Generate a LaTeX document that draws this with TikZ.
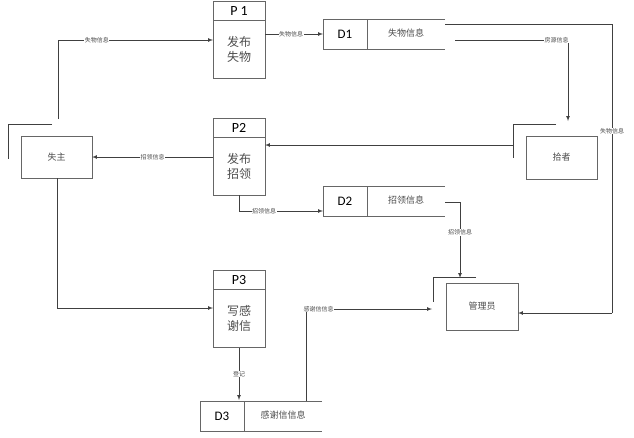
\documentclass[tikz,border=0pt]{standalone}
\usepackage{fontspec}
\setmainfont{Carlito}
\newfontfamily\cjk{Noto Sans CJK SC}
\begin{document}
\begin{tikzpicture}[x=1pt,y=-1pt,
 box/.style={draw=black!60,line width=0.8pt},
 ln/.style={draw=black!75,line width=0.7pt},
 arr/.style={ln,-latex},
 lab/.style={fill=white,inner sep=0.5pt,font=\cjk\fontsize{6}{7}\selectfont,text=black!70},
 big/.style={font=\cjk\fontsize{12}{15}\selectfont,text=black!70,align=center},
 mid/.style={font=\cjk\fontsize{9}{11}\selectfont,text=black!70},
 pid/.style={font=\fontsize{14}{16}\selectfont}]
\useasboundingbox (0,0) rectangle (634,437);
% processes
\foreach \n/\y/\t/\b in {p1/1/P 1/发布\\失物, p2/118/P2/发布\\招领, p3/270/P3/写感\\谢信}{
  \draw[box] (213,\y) rectangle (265,\y+77);
  \draw[box] (213,\y+19) -- (265,\y+19);
  \node[pid] (\n h) at (239,\y+10) {\t};
  \node[big] (\n) at (239,\y+48) {\b};
}
% data stores
\foreach \n/\x/\y/\id/\t in {d1/323/19/D1/失物信息, d2/323/186/D2/招领信息, d3/200/401/D3/感谢信信息}{
  \draw[box] (\x+122,\y) -- (\x,\y) -- (\x,\y+30) -- (\x+122,\y+30);
  \draw[box] (\x+44,\y) -- (\x+44,\y+30);
  \node[pid,font=\fontsize{13}{15}\selectfont] (\n id) at (\x+22,\y+15) {\id};
  \node[mid] (\n) at (\x+83,\y+14) {\t};
}
% entities
\foreach \n/\x/\y/\w/\h/\t in {sz/21/136/71/42/失主, sj/526/136/71/43/拾者, gl/446/283/72/47/管理员}{
  \draw[box] (\x,\y) rectangle (\x+\w,\y+\h);
  \node[mid] (\n) at (\x+\w/2,\y+\h/2) {\t};
}
\draw[ln] (52,124) -- (8,124) -- (8,159);
\draw[ln] (556,124) -- (513,124) -- (513,158);
\draw[ln] (476,277) -- (433,277) -- (433,302);
% connectors
\draw[arr] (58,119) -- (58,40) -- node[lab,pos=0.25]{失物信息} (213,40);
\draw[arr] (265,34) -- node[lab,pos=0.45]{失物信息} (323,34);
\draw[arr] (455,40) -- node[lab,pos=0.9]{房源信息} (568,40) -- (568,121);
\draw[ln] (445,24) -- (612,24) -- node[lab,pos=0.37]{失物信息} (612,313);
\draw[arr] (612,313) -- (518,313);
\draw[arr] (513,145) -- (265,145);
\draw[arr] (213,157) -- node[lab]{招领信息} (92,157);
\draw[arr] (239,195) -- (239,211) -- node[lab,pos=0.3]{招领信息} (323,211);
\draw[arr] (445,202) -- (460,202) -- node[lab,pos=0.4]{招领信息} (460,278);
\draw[arr] (57,178) -- (57,308) -- (213,308);
\draw[arr] (239,348) -- node[lab]{登记} (239,400);
\draw[arr] (306,401) -- (306,309) -- node[lab,pos=0.1]{感谢信信息} (432,309);
\end{tikzpicture}
\end{document}
